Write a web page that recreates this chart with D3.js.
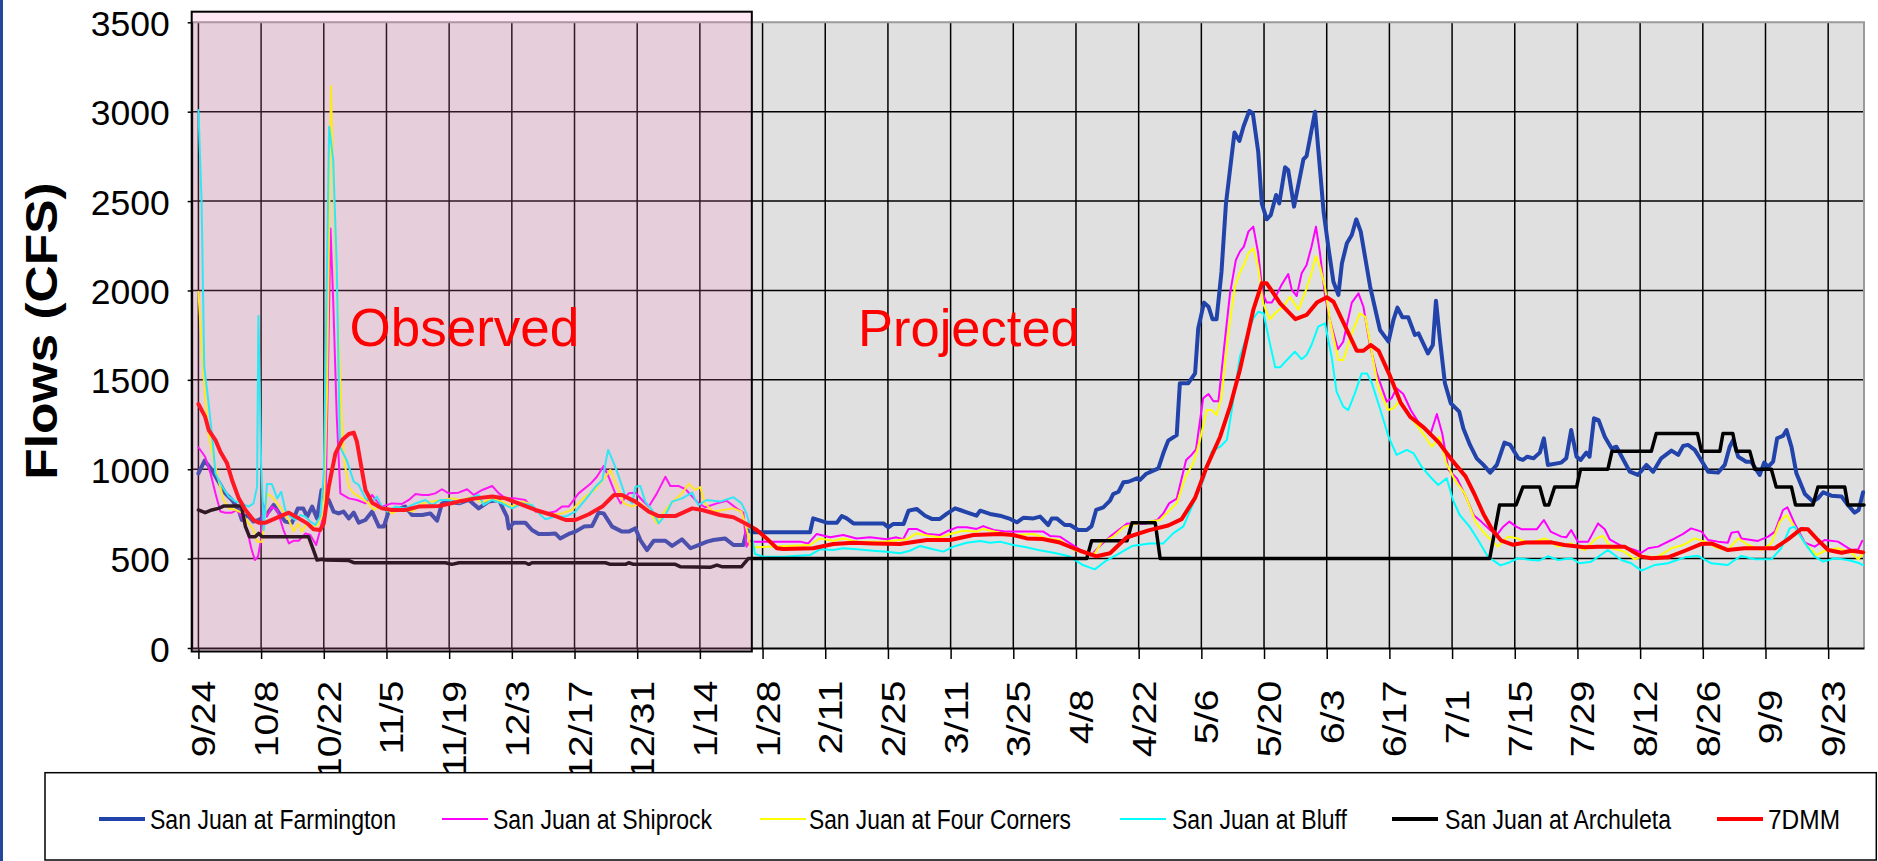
<!DOCTYPE html>
<html>
<head>
<meta charset="utf-8">
<script src="https://cdn.jsdelivr.net/npm/d3@7"></script>
<style>
  html, body { margin: 0; padding: 0; background: #ffffff; }
  svg { display: block; }
</style>
</head>
<body>
<svg id="chart" width="1878" height="861"></svg>
<script>
// ---- Axis labels ------------------------------------------------------
// Day 0 is 9/24; one labelled tick every 14 days through 9/23.
const tickLabels = ["9/24","10/8","10/22","11/5","11/19","12/3","12/17","12/31","1/14","1/28",
  "2/11","2/25","3/11","3/25","4/8","4/22","5/6","5/20","6/3","6/17","7/1","7/15","7/29",
  "8/12","8/26","9/9","9/23"];
const tickDays = tickLabels.map((_, i) => i * 14);
const yTicks = [0, 500, 1000, 1500, 2000, 2500, 3000, 3500];
const observedEndDay = 123.6;   // last day of observed record

// ---- Daily flows, [day, cfs] ----------------------------------------
const farmington = [[0,977],[1.4,1048],[3,996],[4.5,930],[6,865],[7.5,828],[9,772],[9.7,716],[10.9,744],[12.3,707],[13.5,716],[14.6,735],[15.7,763],[16.8,800],[18.3,744],[19.4,707],[20.9,701],[22.2,781],[23.4,781],[24.3,735],[25.4,791],[26.5,725],[27.5,884],[28,847],[29.1,828],[30.2,763],[31.3,753],[32.4,763],[33.6,725],[34.7,757],[35.8,701],[37.3,716],[38.8,763],[40.3,679],[41.4,679],[42.5,763],[44,772],[46.2,791],[47.7,744],[50,744],[51.8,753],[53.3,712],[54.4,809],[55.9,819],[58.2,809],[60.4,828],[62.6,781],[64.8,819],[67.1,828],[68.9,735],[69.3,669],[70.4,701],[73,701],[74.5,660],[76,638],[78.2,638],[79.7,641],[80.8,613],[82.7,638],[84.2,651],[86.1,679],[87.9,682],[89.4,757],[90.5,753],[92.4,679],[94.6,651],[96.1,651],[97.6,669],[98.7,604],[100.2,548],[101.7,600],[104.3,600],[105.8,571],[108,608],[109.9,558],[111.7,576],[113.6,595],[115,604],[117.6,613],[119.5,576],[121.7,576],[122.5,660],[123.9,647],[136.6,647],[137.3,725],[140.3,701],[142.6,701],[143.7,738],[144.8,725],[146.3,697],[153,697],[154.1,675],[155.2,694],[157.5,694],[158.6,768],[160.4,778],[162.3,740],[163.8,722],[165.6,722],[167.1,750],[169,781],[170.1,772],[171.6,759],[173.8,740],[174.6,768],[176.8,750],[179,740],[181.3,722],[182.8,703],[184.3,729],[186.5,725],[188,735],[189.8,688],[190.6,725],[191.7,725],[193.5,688],[194.7,688],[196.5,660],[198.4,660],[199.5,682],[200.5,772],[202.1,787],[203.6,824],[204.3,861],[205.5,874],[206.6,927],[207.7,930],[209.6,949],[210.3,940],[211.6,973],[214.4,1005],[215.5,1089],[216.6,1160],[218.5,1191],[219.2,1481],[221.1,1481],[222.6,1536],[223.3,1788],[224.6,1932],[225.6,1909],[226.5,1839],[227.4,1839],[228.5,2105],[229.5,2487],[231.4,2883],[232.5,2836],[233.4,2916],[234.7,3004],[235.5,2991],[236.7,2776],[237.5,2487],[238.6,2398],[239.5,2422],[240.7,2534],[241.4,2487],[242.7,2689],[243.4,2674],[244.7,2469],[246.8,2734],[247.5,2752],[249.4,3000],[251.3,2441],[252.4,2236],[253.5,2049],[254.6,1975],[255.4,2152],[256.5,2264],[257.6,2310],[258.6,2398],[259.6,2329],[261.7,2021],[263.9,1779],[265.8,1714],[266.9,1835],[267.8,1904],[268.9,1850],[270.2,1850],[271.7,1751],[272.5,1760],[274.6,1648],[275.7,1695],[276.4,1943],[277.3,1723],[278.4,1481],[279.7,1369],[281.6,1322],[282.5,1229],[284,1136],[285.5,1061],[287,1024],[288.5,981],[290,1024],[291.7,1149],[293,1136],[294.8,1061],[295.8,1052],[296.8,1070],[298.2,1061],[299.6,1093],[300.5,1173],[301.4,1024],[304.4,1037],[305.5,1061],[306.6,1219],[307.8,1070],[308.7,1052],[310,1093],[310.7,1070],[311.7,1285],[312.7,1275],[314.1,1182],[315.6,1117],[316.7,1126],[318.5,1042],[319.7,986],[321.5,968],[323.4,1024],[324.9,986],[326.7,1061],[329,1104],[330.5,1080],[331.6,1130],[332.7,1136],[334.2,1108],[335.7,1048],[337.2,986],[339.4,981],[340.9,1024],[342,1126],[342.8,1164],[343.9,1070],[345.7,1042],[346.8,1042],[348.7,968],[349.7,1037],[350.6,1014],[351.7,1042],[352.6,1173],[353.9,1186],[354.7,1219],[355.8,1126],[356.9,977],[358.8,861],[360.6,819],[361.7,837],[362.9,871],[364.7,852],[367,847],[368.4,800],[369.9,757],[370.8,772],[371.8,871]];

const shiprock = [[0,1123],[1.5,1070],[2.7,977],[3.8,865],[4.9,763],[6,757],[7.5,757],[8.6,772],[9.7,735],[10.9,660],[11.8,558],[12.6,492],[13.3,511],[14.1,623],[14.4,809],[15.3,735],[16.4,791],[17.6,772],[19,660],[20.2,585],[21.3,600],[22.4,600],[23.9,641],[25,632],[26.3,576],[27.2,660],[28.4,809],[29.5,2347],[30.1,1947],[30.9,1294],[31.7,865],[33.6,837],[35.4,828],[37.3,809],[38.8,856],[39.9,819],[41,791],[43.2,809],[45.5,806],[47,828],[48.5,861],[50,856],[51.4,856],[52.9,865],[54.4,888],[55.9,865],[58.1,869],[60,888],[61.5,856],[63.4,884],[65.6,906],[67.1,865],[68.6,837],[70.8,837],[73,828],[75.3,763],[77.5,753],[79.7,763],[81.2,791],[82.7,791],[84.9,865],[87.5,917],[89,958],[90.5,1018],[91.6,958],[93.1,865],[94.3,809],[96.1,865],[97.6,869],[99.1,828],[100.6,791],[102.4,865],[104.3,958],[105.4,906],[107.3,906],[108.8,888],[110.3,847],[111.7,809],[113.2,787],[115.8,809],[118,824],[120.2,781],[121.7,757],[122.4,567],[123.2,600],[123.9,595],[134.4,595],[136.2,585],[138.1,638],[141.1,619],[144,632],[147,613],[150,619],[153.7,608],[155.9,619],[157.4,608],[158.6,666],[160.4,666],[162.7,638],[165.6,632],[167.5,656],[169.4,675],[171.6,675],[173.8,666],[175.3,682],[177.6,660],[180.5,651],[183.5,651],[188.7,651],[190.2,627],[192.4,623],[194.7,585],[197.6,539],[199.3,518],[201.4,572],[203.6,623],[205.8,665],[207.4,696],[209.6,694],[211.8,697],[214.2,718],[215.5,753],[216.8,809],[218.5,836],[220.6,1052],[221.8,1080],[222.8,1111],[224.4,1397],[225.6,1421],[226.7,1380],[227.8,1380],[229.1,1686],[230.4,1984],[231.7,2170],[232.6,2217],[233.5,2245],[234.5,2329],[235.6,2357],[236.7,2208],[237.7,1984],[238.6,1932],[239.7,1932],[240.8,1975],[241.9,2031],[243.4,2092],[244.2,2003],[245.3,1969],[246.4,2096],[247.5,2142],[248.6,2245],[249.6,2357],[250.5,2208],[251.6,1975],[252.7,1835],[254.5,1671],[255.7,1714],[257.6,1932],[259.1,1984],[260.2,1909],[261.7,1686],[263.2,1536],[265.4,1378],[266.5,1397],[267.6,1453],[269.1,1421],[270.8,1330],[272.5,1262],[274,1230],[275.1,1191],[276.6,1309],[277.8,1200],[279.2,996],[281.1,949],[282.9,856],[284.8,744],[286.5,707],[288.5,660],[290,632],[291.3,675],[292.8,707],[294.3,679],[295.6,664],[298.9,664],[300.5,716],[302,651],[304.4,623],[305.5,619],[306.6,660],[308.1,595],[310.4,595],[312.6,697],[314.1,664],[315.2,608],[317.8,571],[320.8,548],[322.3,533],[323.8,558],[326,567],[329,604],[331.6,638],[333.4,669],[335.7,651],[337.2,604],[339.4,595],[341.6,589],[342.4,645],[343.9,651],[344.6,613],[348.3,599],[350.6,623],[352.1,651],[353.9,772],[354.9,787],[356.5,697],[358.8,589],[361,567],[363.2,604],[366.2,595],[369.2,548],[370.7,552],[371.6,599]];

const fourCorners = [[0,1993],[1.1,1536],[2.2,1201],[3.1,1089],[4.5,940],[5.6,828],[6.8,781],[8.3,772],[9.7,757],[11.2,697],[12.3,660],[13.1,595],[14.2,595],[15,763],[15.3,865],[16.4,847],[17.6,809],[18.7,772],[20.2,716],[21.3,651],[22.3,697],[23.1,651],[24.3,697],[25.4,679],[26.7,688],[28,763],[28.7,1406],[29.6,3144],[29.8,2926],[30.5,2320],[31.3,1760],[32,1294],[32.6,1040],[33.6,902],[34.7,865],[36.5,837],[38,809],[39.2,772],[40.3,791],[41.8,781],[43.2,753],[45.5,781],[47.7,763],[50,809],[52.2,819],[54.4,828],[56.6,837],[58.9,828],[61.1,847],[63.4,813],[65.6,837],[67.8,819],[70.1,791],[72.3,819],[73.8,809],[76,757],[79,744],[81.2,753],[83.4,772],[86.4,847],[88.7,888],[90.9,958],[92,996],[93.5,902],[95,809],[96.9,791],[98.7,809],[100.6,772],[102.4,697],[104.3,772],[106.2,824],[108,865],[109.5,917],[111,884],[112.1,900],[113.1,809],[115,763],[117.2,772],[119.5,781],[121.3,763],[122.5,660],[123.2,576],[124.3,563],[136.6,576],[138.8,613],[141.8,600],[144,613],[147,595],[153,595],[156.7,604],[158.2,608],[160.4,641],[163.4,627],[165.6,619],[167.9,638],[170.9,656],[173.8,651],[175.3,666],[179,645],[182.8,632],[186.5,638],[189.5,613],[192.4,604],[195.6,548],[198.5,528],[200.2,530],[201.7,589],[204.3,623],[206.8,679],[209.6,695],[212.5,707],[214.8,716],[216.6,763],[218.5,809],[220.5,960],[222.2,1033],[223.7,1164],[225.2,1331],[226.3,1331],[227.4,1303],[228.5,1406],[230,1760],[231.5,2021],[232.5,2096],[233.5,2142],[234.5,2208],[235.6,2236],[236.7,2133],[237.8,1928],[239.3,1839],[240.8,1881],[242.3,1909],[243.8,1965],[245.7,1891],[247.5,2012],[248.6,2096],[249.6,2193],[250.5,2133],[251.6,2021],[252.7,1835],[254.6,1611],[255.7,1611],[257.6,1760],[259.4,1872],[260.6,1853],[262.1,1648],[263.5,1462],[264.5,1400],[265.7,1331],[266.9,1341],[268.4,1387],[270.2,1303],[272.1,1247],[274,1182],[275.5,1126],[277.2,1180],[278.7,1033],[280.6,940],[282.8,865],[285.4,697],[287.6,632],[290.2,567],[292.5,623],[294.7,613],[297,585],[300.7,613],[303.7,567],[306.6,585],[309.6,548],[312.2,613],[313.7,627],[315.6,558],[318.5,539],[320.8,496],[322.3,511],[326,511],[329,558],[331.6,576],[334.2,613],[336.4,595],[339.4,558],[341.6,548],[343.9,613],[346.1,576],[349.1,548],[351.3,585],[353.2,707],[354.7,744],[356.5,679],[358.8,585],[361.4,520],[363.2,544],[366.2,558],[369.2,533],[370.7,496],[371.8,530]];

const bluff = [[0,3009],[0.7,2506],[1.3,1574],[2.2,1387],[3.3,1126],[3.8,977],[5.3,902],[6.8,847],[8.3,819],[9.7,809],[11.2,791],[12.3,809],[13.1,902],[13.4,1857],[14,1033],[14.6,660],[15.3,917],[16.4,917],[17.6,837],[18.5,874],[19.4,772],[20.5,735],[21.7,716],[22.8,744],[23.9,735],[25,707],[26.1,688],[27.2,735],[28,977],[29.2,2916],[30.1,2730],[30.9,2133],[31.6,1126],[33.1,1052],[34.7,930],[35.8,912],[37.3,837],[38.8,819],[39.9,847],[41,791],[42.1,763],[44,791],[46.2,781],[48.5,809],[50.7,828],[52.2,800],[54,828],[55.9,828],[58.2,809],[60.4,837],[62.6,856],[63.7,800],[65.6,828],[67.8,809],[70.1,781],[72.3,809],[74.5,800],[76.4,744],[77.5,720],[79.7,735],[82,735],[84.2,763],[86.4,828],[88.7,902],[90.2,940],[91.5,1108],[92.8,1033],[93.9,958],[95.4,847],[96.9,809],[97.6,902],[98.7,906],[99.8,819],[101.3,772],[102.8,697],[104.3,744],[105.8,819],[108,837],[110.3,869],[111,828],[111.7,800],[113.5,828],[116.5,819],[119.5,843],[121.3,809],[122.4,753],[123.2,679],[124.3,526],[126.2,511],[130.6,511],[136.6,520],[138.8,552],[141.8,548],[144,558],[147,552],[150.7,544],[153.7,539],[156.7,530],[158.9,544],[161.2,571],[164.1,552],[166.4,539],[168.6,567],[171.6,589],[174.6,599],[176.8,589],[179,595],[182,576],[185,563],[187.6,548],[191,533],[194.5,513],[197.4,466],[200.2,440],[202.7,488],[205.5,526],[208.5,570],[212.5,585],[215.5,585],[217.7,641],[220,680],[222.2,809],[224.4,935],[226.3,1098],[228.2,1126],[229.7,1164],[230.8,1331],[232.6,1630],[234.1,1742],[235.6,1844],[236.7,1881],[237.9,1872],[239.3,1704],[240.5,1570],[241.6,1570],[243.1,1611],[244.9,1658],[246.4,1615],[247.5,1639],[248.6,1695],[250.1,1798],[251.6,1816],[253.1,1630],[254.2,1434],[255.7,1350],[256.8,1331],[258.3,1425],[259.8,1536],[261,1536],[262.1,1481],[264,1331],[265.8,1182],[267.6,1080],[269.9,1108],[271.4,1089],[273.2,1014],[275.1,958],[276.9,912],[278.8,949],[280.2,828],[281.7,744],[283.9,679],[285.8,604],[288,511],[290.8,462],[292.9,480],[294.7,502],[297.7,492],[299.5,490],[301.4,513],[303.7,492],[306.6,502],[308.5,474],[311.1,483],[314.8,548],[317.8,492],[320,474],[322.3,433],[325.2,464],[328.2,474],[332,507],[334.9,516],[337.9,474],[341.6,464],[343.1,492],[344.6,515],[347.6,496],[351.3,496],[353.5,558],[355.4,669],[356.5,679],[358.8,585],[361,511],[362.9,483],[365.5,502],[368.4,492],[370.7,477],[371.8,464]];

const archuleta = [[0,772],[1.5,757],[3,772],[4.5,781],[5.6,794],[9.6,794],[10.5,679],[11.4,623],[12.7,623],[13.5,641],[14.2,623],[24.6,623],[25.7,548],[26.5,492],[27.6,496],[28.3,492],[33.6,489],[34.7,477],[55.2,477],[56.6,468],[58.2,477],[73,477],[73.8,468],[74.5,477],[90.9,477],[92,468],[95.4,468],[96.1,477],[97.2,468],[106.5,468],[107.6,455],[114.3,451],[115.8,464],[116.9,455],[121.3,455],[122.8,500],[198.4,500],[199.5,600],[207.4,600],[208.5,700],[213.7,700],[214.8,500],[288.4,500],[290.6,800],[294.3,800],[295.8,900],[299.6,900],[300.7,800],[301.6,800],[302.9,900],[307.8,900],[308.7,1000],[314.8,1000],[315.7,1100],[324.5,1100],[325.6,1200],[334.8,1200],[335.7,1100],[339.8,1100],[340.5,1200],[342.7,1200],[343.5,1100],[346.5,1100],[347.6,1000],[351.3,1000],[352.4,900],[355.8,900],[356.7,800],[360.6,800],[361.7,900],[367.7,900],[368.4,800],[372,800]];

const dmm7 = [[0,1365],[1.5,1294],[2.3,1219],[3.8,1163],[4.9,1098],[6.4,1033],[7.5,940],[9,837],[10.5,772],[12.3,716],[13.5,701],[15,701],[17.2,725],[20.2,757],[22.4,725],[24.3,697],[25.7,664],[27.2,660],[28,697],[29.1,902],[30.6,1089],[32.1,1163],[33.6,1197],[34.7,1205],[35.4,1154],[36.5,996],[37.3,884],[38.8,813],[41,781],[43.2,772],[46.2,772],[49.2,791],[53.7,794],[58.2,819],[61.9,837],[65.6,847],[68.6,837],[71.5,809],[75.3,772],[79,744],[82,716],[84.2,716],[87.2,748],[90.2,791],[92.8,856],[94.6,856],[97.6,819],[100.6,763],[102.8,738],[106.5,738],[110.3,781],[112.5,772],[116.5,744],[119.5,731],[122.4,694],[124.7,660],[126.9,613],[129.2,558],[130.6,554],[137.3,558],[141.8,582],[146.3,589],[150.7,585],[156.7,582],[162.7,604],[167.9,604],[173.1,632],[179,638],[182,632],[185,613],[188.5,610],[192.4,590],[196.9,544],[200.6,513],[203.6,530],[207.3,618],[212.2,658],[216.6,685],[219.6,721],[222.6,840],[225.2,1014],[228.2,1182],[230.4,1350],[232.6,1555],[235.6,1891],[237.5,2040],[238.6,2040],[241.6,1928],[245,1839],[247.5,1863],[249.8,1932],[252,1962],[253.5,1937],[256.5,1779],[258.7,1663],[260.2,1663],[261.8,1695],[263.6,1662],[266.2,1518],[268.5,1373],[270.7,1292],[273.7,1233],[277,1150],[280,1050],[283,960],[285,860],[287,750],[289,660],[291,600],[293.5,578],[296.5,590],[302.2,591],[305.1,576],[309.6,563],[312.6,567],[318.5,567],[322.3,511],[324.5,502],[328.2,507],[332,544],[335.7,582],[337.9,585],[341.6,548],[345.3,558],[352.1,558],[355,608],[358,666],[359.5,664],[361.7,604],[364,548],[367,533],[369.2,544],[371.8,535]];

const seriesNames = ["San Juan at Farmington","San Juan at Shiprock","San Juan at Four Corners",
  "San Juan at Bluff","San Juan at Archuleta","7DMM"];
const seriesData = [farmington, shiprock, fourCorners, bluff, archuleta, dmm7];

// ---- Styling ---------------------------------------------------------
const seriesColors = ["#2244aa","#ff00ff","#ffff00","#00ffff","#000000","#ff0000"];
const seriesWidths = [4, 2, 2, 2, 3.5, 4];
const legendLineX = [99, 442, 760, 1120, 1392, 1717];
const legendTextX = [150, 493, 809, 1172, 1445, 1768];
const legendTextW = [246, 219, 262, 175, 226, 72];
const FONT = "'Liberation Sans', Arial, sans-serif";
const NARROW = "'Liberation Sans Narrow', 'Arial Narrow', 'Liberation Sans', Arial, sans-serif";

const plot = { left: 191.7, right: 1864, top: 22.3, bottom: 648 };
const x = d3.scaleLinear().domain([-1.5, 372]).range([plot.left, plot.right]);
const y = d3.scaleLinear().domain([0, 3500]).range([plot.bottom, plot.top]);

const svg = d3.select("#chart");

// plot background
svg.append("rect")
  .attr("x", plot.left).attr("y", plot.top)
  .attr("width", plot.right - plot.left).attr("height", plot.bottom - plot.top)
  .attr("fill", "#e0e0e0");

// gridlines
svg.append("g").selectAll("line").data(yTicks.filter(v => v > 0 && v < 3500)).join("line")
  .attr("x1", plot.left).attr("x2", plot.right)
  .attr("y1", d => y(d)).attr("y2", d => y(d))
  .attr("stroke", "#000").attr("stroke-width", 1.5);
svg.append("g").selectAll("line").data(tickDays).join("line")
  .attr("x1", d => x(d)).attr("x2", d => x(d))
  .attr("y1", plot.top).attr("y2", plot.bottom)
  .attr("stroke", "#000").attr("stroke-width", 1.5);

// plot frame (top and right)
svg.append("path")
  .attr("d", `M${plot.left},${plot.top}H${plot.right}V${plot.bottom}`)
  .attr("fill", "none").attr("stroke", "#9a9a9a").attr("stroke-width", 2);

// series
const line = d3.line().x(d => x(d[0])).y(d => y(d[1]));
svg.append("g").selectAll("path").data(seriesData).join("path")
  .attr("d", line)
  .attr("fill", "none")
  .attr("stroke", (d, i) => seriesColors[i])
  .attr("stroke-width", (d, i) => seriesWidths[i])
  .attr("stroke-linejoin", "round")
  .attr("stroke-linecap", "round");

// axes
const yAxis = svg.append("g")
  .attr("transform", `translate(${plot.left},0)`)
  .call(d3.axisLeft(y).tickValues(yTicks).tickSize(4).tickPadding(18).tickSizeOuter(0)
    .tickFormat(d3.format("d")));
yAxis.select(".domain").attr("stroke", "#000").attr("stroke-width", 2);
yAxis.selectAll(".tick line").attr("stroke", "#000").attr("stroke-width", 1.5);
yAxis.selectAll(".tick text")
  .attr("font-family", FONT).attr("font-size", 35.5).attr("fill", "#000")
  .attr("dy", "0.37em");

const xAxis = svg.append("g")
  .attr("transform", `translate(0,${plot.bottom})`)
  .call(d3.axisBottom(x).tickValues(tickDays).tickSize(11).tickSizeOuter(0)
    .tickFormat((d, i) => tickLabels[i]));
xAxis.select(".domain").attr("stroke", "#000").attr("stroke-width", 2);
xAxis.selectAll(".tick line").attr("stroke", "#000").attr("stroke-width", 1.5);
const stretch = 1.176;
xAxis.selectAll(".tick text")
  .attr("font-family", FONT).attr("font-size", 33.5).attr("fill", "#000")
  .attr("x", 0).attr("y", 0).attr("dy", 0)
  .attr("text-anchor", "middle")
  .each(function () {
    const len = this.getComputedTextLength() * stretch;
    const centre = Math.max(680.7 + len / 2, 717) - plot.bottom;
    d3.select(this).attr("transform",
      `translate(16.5,${centre}) rotate(-90) scale(${stretch},1)`);
  });

// observed-period overlay
const ovX0 = plot.left, ovX1 = x(observedEndDay), ovY0 = 11.7, ovY1 = 651.5;
svg.append("rect")
  .attr("x", ovX0).attr("y", ovY0).attr("width", ovX1 - ovX0).attr("height", ovY1 - ovY0)
  .attr("fill", "#ff80c0").attr("fill-opacity", 0.19);
svg.append("rect")
  .attr("x", ovX0).attr("y", ovY0).attr("width", ovX1 - ovX0).attr("height", ovY1 - ovY0)
  .attr("fill", "none").attr("stroke", "#000").attr("stroke-width", 2);

// period labels
svg.append("text").attr("x", 349.5).attr("y", 346)
  .attr("font-family", FONT).attr("font-size", 53).attr("fill", "#ff0000")
  .text("Observed");
svg.append("text").attr("x", 858).attr("y", 346)
  .attr("font-family", FONT).attr("font-size", 52.5).attr("fill", "#ff0000")
  .text("Projected");

// y-axis title
svg.append("text")
  .attr("transform", `translate(57,331) rotate(-90) scale(1.17,1)`)
  .attr("text-anchor", "middle")
  .attr("font-family", FONT).attr("font-weight", "bold").attr("font-size", 44)
  .attr("fill", "#000")
  .text("Flows (CFS)");

// legend
const legend = svg.append("g");
legend.append("rect")
  .attr("x", 45).attr("y", 772.7).attr("width", 1876.3 - 45).attr("height", 860 - 772.7)
  .attr("fill", "#fff").attr("stroke", "#000").attr("stroke-width", 1.5);
const items = legend.selectAll("g.item").data(seriesNames).join("g").attr("class", "item");
items.append("line")
  .attr("x1", (d, i) => legendLineX[i]).attr("x2", (d, i) => legendLineX[i] + 46)
  .attr("y1", 819).attr("y2", 819)
  .attr("stroke", (d, i) => seriesColors[i])
  .attr("stroke-width", (d, i) => seriesWidths[i] > 2 ? 4 : 2);
items.append("text")
  .attr("x", (d, i) => legendTextX[i]).attr("y", 829.3)
  .attr("font-family", NARROW).attr("font-size", 27).attr("fill", "#000")
  .attr("textLength", (d, i) => legendTextW[i]).attr("lengthAdjust", "spacingAndGlyphs")
  .text(d => d);

// slide edge
svg.append("rect").attr("x", 0).attr("y", 0).attr("width", 3).attr("height", 861)
  .attr("fill", "#23479b");
</script>
</body>
</html>
